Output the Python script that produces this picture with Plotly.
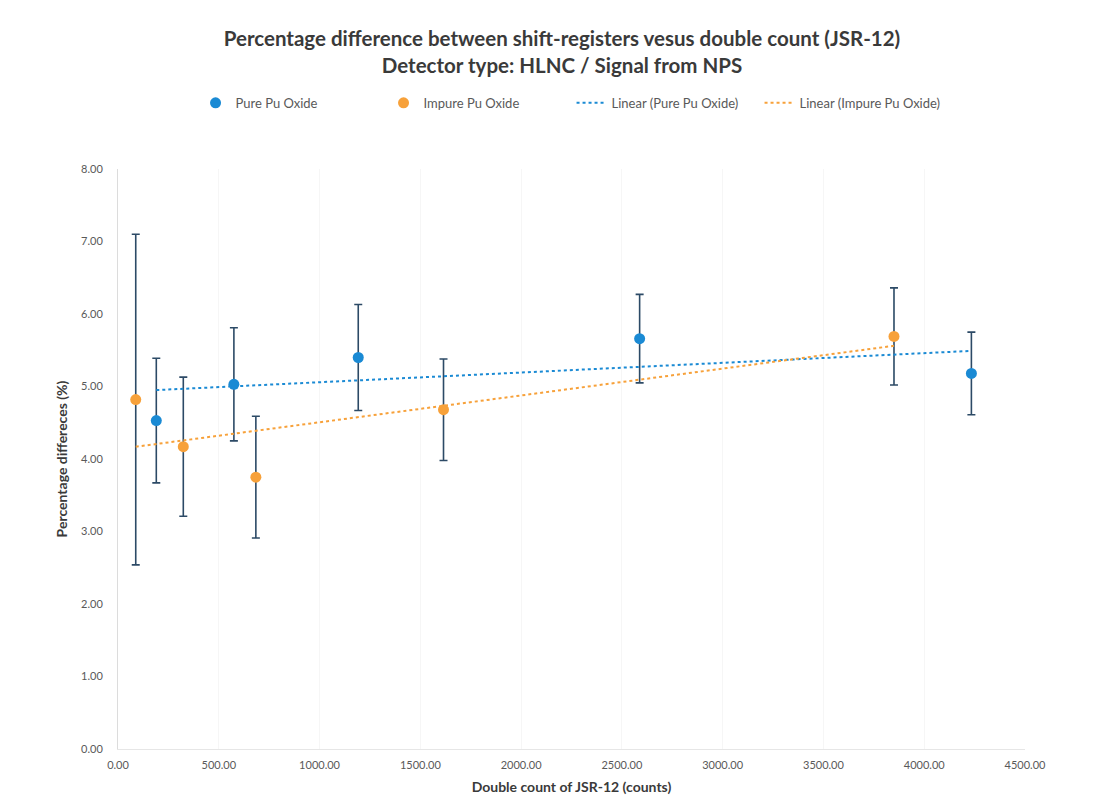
import numpy as np
import plotly.graph_objects as go

# Data
pure_x = [190, 575, 1192, 2588, 4234]
pure_y = [4.53, 5.03, 5.40, 5.66, 5.18]
pure_err = [0.86, 0.78, 0.73, 0.61, 0.57]

impure_x = [88, 324, 684, 1615, 3850]
impure_y = [4.82, 4.17, 3.75, 4.68, 5.69]
impure_err = [2.28, 0.96, 0.84, 0.70, 0.67]

x_ticks = [0, 500, 1000, 1500, 2000, 2500, 3000, 3500, 4000, 4500]
y_ticks = [0, 1, 2, 3, 4, 5, 6, 7, 8]

BLUE = "#1a8ad4"
ORANGE = "#f7a13a"
ERR = "#2c4a66"
GRAY = "#595959"
DARK = "#3a3a3a"

def trend(xs, ys):
    k, b = np.polyfit(xs, ys, 1)
    xx = np.array([min(xs), max(xs)])
    return xx, k * xx + b

fig = go.Figure()

fig.add_trace(go.Scatter(
    x=pure_x, y=pure_y, mode="markers", name="Pure Pu Oxide",
    marker=dict(color=BLUE, size=11),
    error_y=dict(type="data", array=pure_err, color=ERR, thickness=1.6, width=4),
))
fig.add_trace(go.Scatter(
    x=impure_x, y=impure_y, mode="markers", name="Impure Pu Oxide",
    marker=dict(color=ORANGE, size=11),
    error_y=dict(type="data", array=impure_err, color=ERR, thickness=1.6, width=4),
))
tx, ty = trend(pure_x, pure_y)
fig.add_trace(go.Scatter(
    x=tx, y=ty, mode="lines", name="Linear (Pure Pu Oxide)",
    line=dict(color=BLUE, width=2, dash="dot"),
))
tx, ty = trend(impure_x, impure_y)
fig.add_trace(go.Scatter(
    x=tx, y=ty, mode="lines", name="Linear (Impure Pu Oxide)",
    line=dict(color=ORANGE, width=2, dash="dot"),
))

fig.update_layout(
    width=1108, height=797,
    paper_bgcolor="white", plot_bgcolor="white",
    margin=dict(l=110, r=91, t=161, b=56, autoexpand=False),
    font=dict(family="Lato, Open Sans, sans-serif", size=11, color=GRAY),
    title=dict(
        text="<b>Percentage difference between shift-registers vesus double count (JSR-12)</b><br><b>Detector type: HLNC / Signal from NPS</b>",
        x=0.5, xanchor="center", y=0.952, yanchor="top",
        font=dict(family="Lato, Open Sans, sans-serif", size=20.5, color=DARK),
    ),
    legend=dict(
        orientation="h", x=0.0855, xanchor="left", y=1.114, yanchor="middle",
        font=dict(size=13, color=GRAY), itemwidth=30, entrywidth=143,
        traceorder="normal",
    ),
    showlegend=True,
)

fig.update_xaxes(
    range=[0, 4500], tickvals=x_ticks, tickformat=".2f",
    showgrid=True, gridcolor="#f6f6f6", gridwidth=1,
    showline=True, linecolor="#e6e6e6", zeroline=False,
    ticks="", ticklabelstandoff=6, tickfont=dict(size=11, color=GRAY), automargin=False,
    title=dict(text="<b>Double count of JSR-12 (counts)</b>", standoff=11,
               font=dict(size=14, color=DARK)),
)
fig.update_yaxes(
    range=[0, 8], tickvals=y_ticks, tickformat=".2f",
    showgrid=False,
    showline=True, linecolor="#dcdcdc", zeroline=False,
    ticks="", ticklabelstandoff=12, tickfont=dict(size=11, color=GRAY),
    automargin=False,
    title=dict(text="<b>Percentage differeces (%)</b>", standoff=10,
               font=dict(size=14, color=DARK)),
)

fig.write_html("out.html")
